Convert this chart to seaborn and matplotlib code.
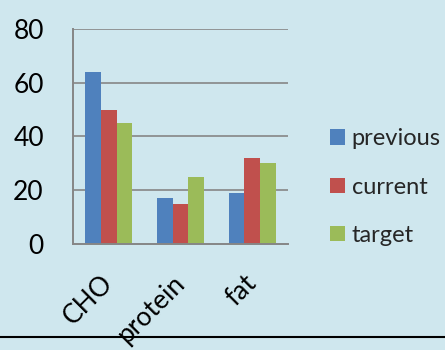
import matplotlib
matplotlib.use("Agg")
import matplotlib.pyplot as plt
import matplotlib.transforms as mtransforms
from matplotlib.lines import Line2D
import seaborn as sns
import pandas as pd

# Macronutrient shares (%)
categories = ["CHO", "protein", "fat"]
series_names = ["previous", "current", "target"]
previous = [64, 17, 19]
current = [50, 15, 32]
target = [45, 25, 30]
y_ticks = [0, 20, 40, 60, 80]

palette = ["#4f81bd", "#c0504d", "#9bbb59"]
bg = "#cfe7ee"

rows = []
for name, vals in zip(series_names, [previous, current, target]):
    for cat, v in zip(categories, vals):
        rows.append({"category": cat, "series": name, "value": v})
df = pd.DataFrame(rows)

sns.set_theme(style="white")
plt.rcParams["font.family"] = ["Lato", "DejaVu Sans"]

fig = plt.figure(figsize=(4.45, 3.5), dpi=100, facecolor=bg)
ax = fig.add_axes([73 / 445, 106 / 350, 215 / 445, 215 / 350])
ax.set_facecolor("none")

sns.barplot(data=df, x="category", y="value", hue="series",
            order=categories, hue_order=series_names, palette=palette,
            width=0.656, gap=0, saturation=1, linewidth=0, ax=ax, zorder=3)

ax.set_xlim(-0.5, 2.5)
ax.set_ylim(0, 80)
ax.set_yticks(y_ticks)
ax.set_xlabel("")
ax.set_ylabel("")

grid_c = "#868686"
for y in y_ticks[1:]:
    ax.axhline(y, color=grid_c, lw=1.2, zorder=1)
for side in ["top", "right"]:
    ax.spines[side].set_visible(False)
for side in ["left", "bottom"]:
    ax.spines[side].set_color(grid_c)
    ax.spines[side].set_linewidth(1.4)
    ax.spines[side].set_zorder(4)

ax.tick_params(axis="y", length=0, pad=21, labelsize=19, labelcolor="black")
ax.tick_params(axis="x", length=0, pad=19, labelsize=19, labelcolor="black")

shift = mtransforms.ScaledTranslation(9 / 100, 0, fig.dpi_scale_trans)
for lab in ax.get_xticklabels():
    lab.set_rotation(45)
    lab.set_ha("right")
    lab.set_va("top")
    lab.set_transform(lab.get_transform() + shift)

ax.legend(loc="center left", bbox_to_anchor=(1.195, 0.265), frameon=False,
          fontsize=17, handlelength=0.62, handleheight=0.62,
          handletextpad=0.3, labelspacing=1.15, borderpad=0, borderaxespad=0)

fig.add_artist(Line2D([0, 1], [13 / 350, 13 / 350], color="black", lw=1.5,
                      transform=fig.transFigure, zorder=10))

fig.savefig("out.png", dpi=100, facecolor=bg)
